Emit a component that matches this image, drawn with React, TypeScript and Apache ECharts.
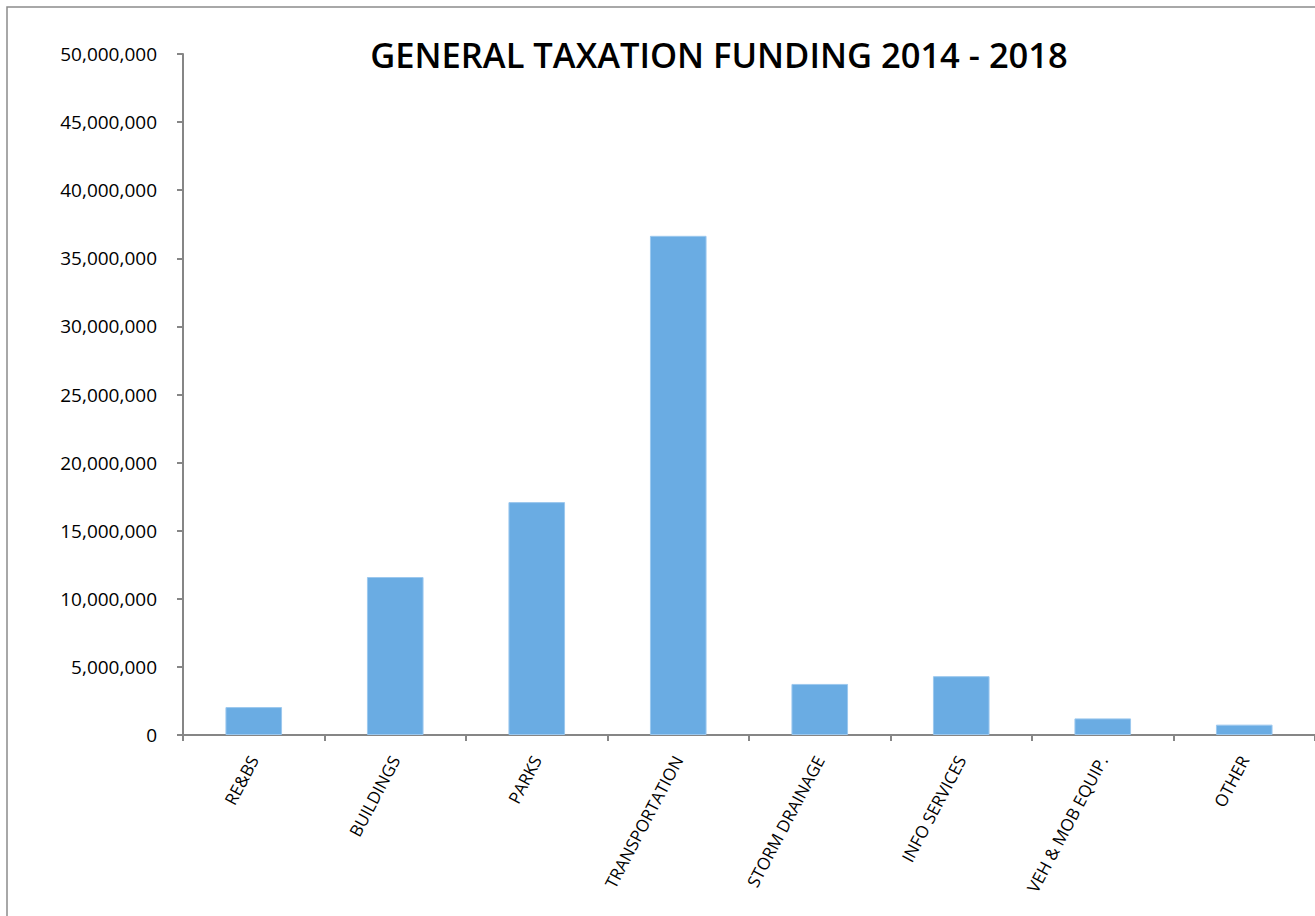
import React, { useEffect, useRef } from "react";
import * as echarts from "echarts";

const categories = [
  "RE&BS",
  "BUILDINGS",
  "PARKS",
  "TRANSPORTATION",
  "STORM DRAINAGE",
  "INFO SERVICES",
  "VEH & MOB EQUIP.",
  "OTHER",
];
const funding = [2050000, 11600000, 17100000, 36650000, 3750000, 4320000, 1220000, 760000];
const titleText = "GENERAL TAXATION FUNDING 2014 - 2018";

const FONT = "'Open Sans', 'Noto Sans', sans-serif";

export default function App() {
  const ref = useRef<HTMLDivElement>(null);
  useEffect(() => {
    if (!ref.current) return;
    const chart = echarts.init(ref.current, null, { renderer: "svg" });
    chart.setOption({
      animation: false,
      backgroundColor: "#ffffff",
      title: {
        text: titleText,
        left: 714,
        textAlign: "center",
        top: 32,
        textStyle: { fontFamily: FONT, fontSize: 34.5, fontWeight: 600, color: "#000000" },
      },
      graphic: [
        {
          type: "rect",
          shape: { x: 7, y: 7, width: 1400, height: 1000 },
          style: { fill: "none", stroke: "#8c8c8c", lineWidth: 1.5 },
          silent: true,
          z: 100,
        },
      ],
      grid: { left: 183, top: 54, width: 1136, height: 681, containLabel: false },
      xAxis: {
        type: "category",
        data: categories,
        axisLine: { show: true, lineStyle: { color: "#868686", width: 2 } },
        axisTick: { show: true, alignWithLabel: false, length: 6, lineStyle: { color: "#868686", width: 2 } },
        axisLabel: {
          rotate: 62,
          interval: 0,
          margin: 22,
          color: "#000000",
          fontFamily: FONT,
          fontSize: 17,
        },
        splitLine: { show: false },
      },
      yAxis: {
        type: "value",
        min: 0,
        max: 50000000,
        interval: 5000000,
        axisLine: { show: true, lineStyle: { color: "#868686", width: 2 } },
        axisTick: { show: true, length: 6, lineStyle: { color: "#868686", width: 2 } },
        splitLine: { show: false },
        axisLabel: {
          margin: 26,
          color: "#000000",
          fontFamily: FONT,
          fontSize: 19,
          formatter: (v: number) => v.toLocaleString("en-US"),
        },
      },
      series: [
        {
          type: "bar",
          data: funding,
          barWidth: "40%",
          itemStyle: { color: "#6aace3", borderColor: "#9cc8ee", borderWidth: 1 },
        },
      ],
    });
    return () => chart.dispose();
  }, []);
  return (
    <div
      ref={ref}
      style={{ position: "absolute", left: 0, top: 0, width: 1315, height: 916 }}
    />
  );
}
